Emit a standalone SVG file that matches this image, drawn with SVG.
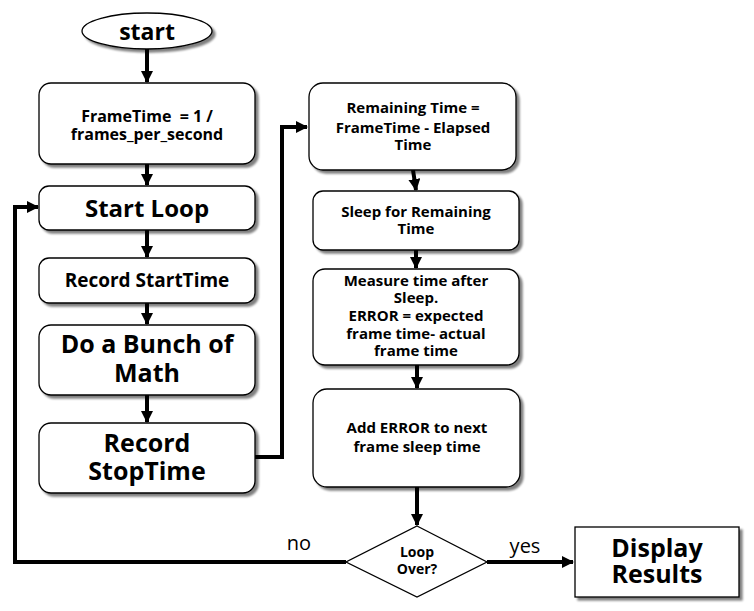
<svg xmlns="http://www.w3.org/2000/svg" width="754" height="611" viewBox="0 0 754 611">
<defs>
<marker id="ah" markerUnits="userSpaceOnUse" markerWidth="12" markerHeight="12" refX="11" refY="6" orient="auto">
<path d="M0,0 L12,6 L0,12 Z" fill="#000"/>
</marker>
<filter id="sh" x="-10%" y="-10%" width="130%" height="130%">
<feGaussianBlur in="SourceAlpha" stdDeviation="1.2"/>
<feOffset dx="3" dy="3" result="b"/>
<feComponentTransfer><feFuncA type="linear" slope="0.5"/></feComponentTransfer>
<feMerge><feMergeNode/><feMergeNode in="SourceGraphic"/></feMerge>
</filter>
</defs>
<style>
.box{fill:#fff;stroke:#000;stroke-width:1.3;filter:url(#sh)}
.t{font-family:"Open Sans",sans-serif;font-weight:bold;text-anchor:middle;fill:#000}
.c{fill:none;stroke:#000;stroke-width:4}
.lbl{font-family:"Open Sans",sans-serif;font-size:20px;fill:#000}
</style>
<rect width="754" height="611" fill="#fff"/>
<g id="connectors">
<line class="c" x1="147" y1="49" x2="147" y2="82" marker-end="url(#ah)"/>
<line class="c" x1="147" y1="164" x2="147" y2="185" marker-end="url(#ah)"/>
<line class="c" x1="147" y1="230" x2="147" y2="257" marker-end="url(#ah)"/>
<line class="c" x1="147" y1="303" x2="147" y2="324" marker-end="url(#ah)"/>
<line class="c" x1="147" y1="395" x2="147" y2="422" marker-end="url(#ah)"/>
<polyline class="c" points="255,457 282,457 282,127 307,127" marker-end="url(#ah)"/>
<line class="c" x1="413" y1="170" x2="416" y2="190" marker-end="url(#ah)"/>
<line class="c" x1="416" y1="250" x2="416" y2="268" marker-end="url(#ah)"/>
<line class="c" x1="417" y1="365" x2="417" y2="388" marker-end="url(#ah)"/>
<line class="c" x1="417" y1="487" x2="417" y2="525" marker-end="url(#ah)"/>
<polyline class="c" points="346,562 15,562 15,207 38,207" marker-end="url(#ah)"/>
<line class="c" x1="487" y1="562" x2="573" y2="562" marker-end="url(#ah)"/>
<text class="lbl" x="299" y="550" text-anchor="middle">no</text>
<text class="lbl" x="525" y="553" text-anchor="middle">yes</text>
</g>
<g id="start">
<ellipse class="box" cx="147" cy="31" rx="65" ry="18"/>
<text class="t" x="147" y="40" font-size="23">start</text>
</g>
<g id="frametime">
<rect class="box" x="39" y="83" width="216" height="81" rx="12"/>
<text class="t" x="147" y="122" font-size="16">FrameTime &#160;= 1 /</text>
<text class="t" x="147" y="140" font-size="16">frames_per_second</text>
</g>
<g id="startloop">
<rect class="box" x="39" y="186" width="216" height="44" rx="10"/>
<text class="t" x="147" y="217" font-size="24">Start Loop</text>
</g>
<g id="recordstart">
<rect class="box" x="39" y="258" width="216" height="45" rx="10"/>
<text class="t" x="147" y="287" font-size="19">Record StartTime</text>
</g>
<g id="math">
<rect class="box" x="39" y="325" width="216" height="70" rx="12"/>
<text class="t" x="147" y="353" font-size="25">Do a Bunch of</text>
<text class="t" x="147" y="382" font-size="25">Math</text>
</g>
<g id="recordstop">
<rect class="box" x="39" y="423" width="216" height="70" rx="12"/>
<text class="t" x="147" y="452" font-size="25">Record</text>
<text class="t" x="147" y="480" font-size="25">StopTime</text>
</g>
<g id="remaining">
<rect class="box" x="309" y="83" width="207" height="87" rx="14"/>
<text class="t" x="413" y="113" font-size="15">Remaining Time =</text>
<text class="t" x="413" y="133" font-size="15">FrameTime - Elapsed</text>
<text class="t" x="413" y="150" font-size="15">Time</text>
</g>
<g id="sleep">
<rect class="box" x="313" y="191" width="206" height="59" rx="10"/>
<text class="t" x="416" y="217" font-size="15">Sleep for Remaining</text>
<text class="t" x="416" y="234" font-size="15">Time</text>
</g>
<g id="measure">
<rect class="box" x="313" y="269" width="206" height="96" rx="12"/>
<text class="t" x="416" y="286" font-size="15">Measure time after</text>
<text class="t" x="416" y="303" font-size="15">Sleep.</text>
<text class="t" x="416" y="321" font-size="15">ERROR = expected</text>
<text class="t" x="416" y="339" font-size="15">frame time- actual</text>
<text class="t" x="416" y="356" font-size="15">frame time</text>
</g>
<g id="adderror">
<rect class="box" x="313" y="389" width="207" height="98" rx="14"/>
<text class="t" x="417" y="433" font-size="15">Add ERROR to next</text>
<text class="t" x="417" y="452" font-size="15">frame sleep time</text>
</g>
<g id="loopover">
<polygon class="box" points="417,526 487,562 417,597 346,562" style="filter:none"/>
<text class="t" x="417" y="557" font-size="14">Loop</text>
<text class="t" x="417" y="574" font-size="14">Over?</text>
</g>
<g id="display">
<rect class="box" x="575" y="527" width="164" height="70"/>
<text class="t" x="657" y="557" font-size="25">Display</text>
<text class="t" x="657" y="583" font-size="25">Results</text>
</g>
</svg>
